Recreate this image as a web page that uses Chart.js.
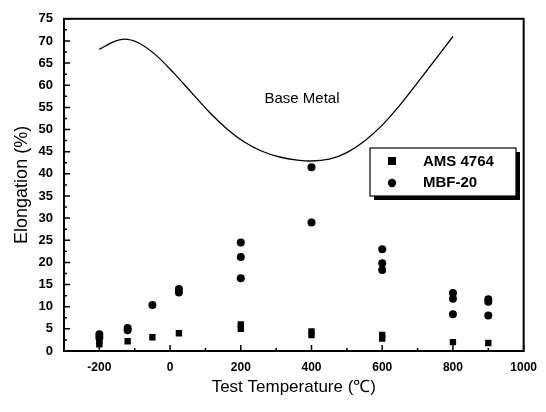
<!DOCTYPE html>
<html>
<head>
<meta charset="utf-8">
<script src="https://cdn.jsdelivr.net/npm/chart.js@4/dist/chart.umd.min.js"></script>
<style>
  html, body { margin: 0; padding: 0; background: #fff; }
  #wrap { width: 546px; height: 412px; }
</style>
</head>
<body>
<div id="wrap"><canvas id="chart" width="546" height="412"></canvas></div>
<script>
// elongation vs test temperature
const xTicks = [-200, 0, 200, 400, 600, 800, 1000];
const yTicks = [0, 5, 10, 15, 20, 25, 30, 35, 40, 45, 50, 55, 60, 65, 70, 75];

// AMS 4764 (squares)
const amsTemp  = [-200, -200, -120, -50, 25, 200, 200, 400, 400, 600, 600, 800, 900];
const amsElong = [1.5, 2.2, 2.2, 3.1, 4.0, 5.0, 6.0, 3.6, 4.4, 2.8, 3.6, 2.0, 1.8];

// MBF-20 (circles)
const mbfTemp  = [-200, -200, -120, -120, -50, 25, 25, 200, 200, 200, 400, 400, 600, 600, 600, 800, 800, 800, 900, 900, 900];
const mbfElong = [3.0, 3.8, 4.7, 5.2, 10.4, 13.2, 14.0, 24.5, 21.2, 16.4, 41.5, 29.0, 23.0, 19.8, 18.3, 13.1, 11.8, 8.3, 11.7, 11.1, 8.0];

// base metal curve
const baseTemp  = [-200, -160, -130, -90, -40, 10, 60, 110, 160, 210, 260, 310, 360, 400, 450, 500, 550, 600, 650, 700, 750, 800];
const baseElong = [68.1, 69.8, 70.4, 69.6, 66.8, 62.8, 58.4, 54.0, 50.2, 47.2, 45.1, 43.8, 43.1, 42.9, 43.3, 44.8, 47.4, 51.0, 55.5, 60.6, 65.8, 71.0];

const toPts = (xs, ys) => xs.map((x, i) => ({ x, y: ys[i] }));
const FONT = '"Liberation Sans", Arial, sans-serif';

// frame, inward ticks, legend box, curve label
const decor = {
  id: 'decor',
  afterDraw(chart) {
    const { ctx, chartArea: a, scales: { x, y } } = chart;
    ctx.save();
    ctx.strokeStyle = '#000';
    ctx.lineWidth = 2;
    ctx.strokeRect(a.left, a.top, a.right - a.left, a.bottom - a.top);

    ctx.lineWidth = 1.5;
    ctx.beginPath();
    for (let v = -300; v <= 1000; v += 100) {
      const px = x.getPixelForValue(v);
      const len = v % 200 === 0 ? 6 : 3;
      ctx.moveTo(px, a.bottom); ctx.lineTo(px, a.bottom - len);
    }
    for (let v = 0; v <= 75; v += 2.5) {
      const py = y.getPixelForValue(v);
      const len = v % 5 === 0 ? 6 : 3;
      ctx.moveTo(a.left, py); ctx.lineTo(a.left + len, py);
    }
    ctx.stroke();

    // curve label
    ctx.fillStyle = '#000';
    ctx.font = '15px ' + FONT;
    ctx.textAlign = 'center';
    ctx.textBaseline = 'middle';
    ctx.fillText('Base Metal', 302, 99);

    // legend with drop shadow
    const bx = 370, by = 148, bw = 146, bh = 48;
    ctx.fillRect(bx + 4, by + 4, bw, bh);
    ctx.fillStyle = '#fff';
    ctx.fillRect(bx, by, bw, bh);
    ctx.lineWidth = 1.2;
    ctx.strokeRect(bx, by, bw, bh);

    ctx.fillStyle = '#000';
    ctx.fillRect(388, 157, 8, 8);
    ctx.beginPath();
    ctx.arc(392, 183, 4.2, 0, Math.PI * 2);
    ctx.fill();
    ctx.font = 'bold 15px ' + FONT;
    ctx.textAlign = 'left';
    ctx.fillText(chart.data.datasets[0].label, 423, 162);
    ctx.fillText(chart.data.datasets[1].label, 423, 183);
    ctx.restore();
  }
};

new Chart(document.getElementById('chart'), {
  type: 'scatter',
  data: {
    datasets: [
      {
        label: 'AMS 4764',
        data: toPts(amsTemp, amsElong),
        pointStyle: 'rect',
        pointRadius: 4.5,
        backgroundColor: '#000',
        borderColor: '#000',
        borderWidth: 0
      },
      {
        label: 'MBF-20',
        data: toPts(mbfTemp, mbfElong),
        pointStyle: 'circle',
        pointRadius: 4,
        backgroundColor: '#000',
        borderColor: '#000',
        borderWidth: 0
      },
      {
        label: 'Base Metal',
        data: toPts(baseTemp, baseElong),
        showLine: true,
        cubicInterpolationMode: 'monotone',
        pointRadius: 0,
        borderColor: '#000',
        borderWidth: 1.3
      }
    ]
  },
  options: {
    responsive: false,
    animation: false,
    layout: { padding: { left: 0, top: 12, right: 22, bottom: 0 } },
    plugins: { legend: { display: false }, tooltip: { enabled: false } },
    scales: {
      x: {
        type: 'linear',
        min: -300, max: 1000,
        afterFit: s => { s.height = 61; },
        afterBuildTicks: s => { s.ticks = xTicks.map(v => ({ value: v })); },
        grid: { display: false, drawTicks: false },
        border: { display: false },
        ticks: {
          padding: 9,
          color: '#000',
          callback: v => String(v),
          font: { family: FONT, size: 12, weight: 'bold' }
        },
        title: {
          display: true,
          text: 'Test Temperature (\u2103)',
          color: '#000',
          font: { family: FONT, size: 17 },
          padding: { top: 0, bottom: 14 }
        }
      },
      y: {
        min: 0, max: 75,
        afterFit: s => { s.width = 64; },
        afterBuildTicks: s => { s.ticks = yTicks.map(v => ({ value: v })); },
        grid: { display: false, drawTicks: false },
        border: { display: false },
        ticks: {
          padding: 11,
          color: '#000',
          font: { family: FONT, size: 13, weight: 'bold' }
        },
        title: {
          display: true,
          text: 'Elongation (%)',
          color: '#000',
          font: { family: FONT, size: 18 },
          padding: { top: 11, bottom: 0 }
        }
      }
    }
  },
  plugins: [decor]
});
</script>
</body>
</html>
